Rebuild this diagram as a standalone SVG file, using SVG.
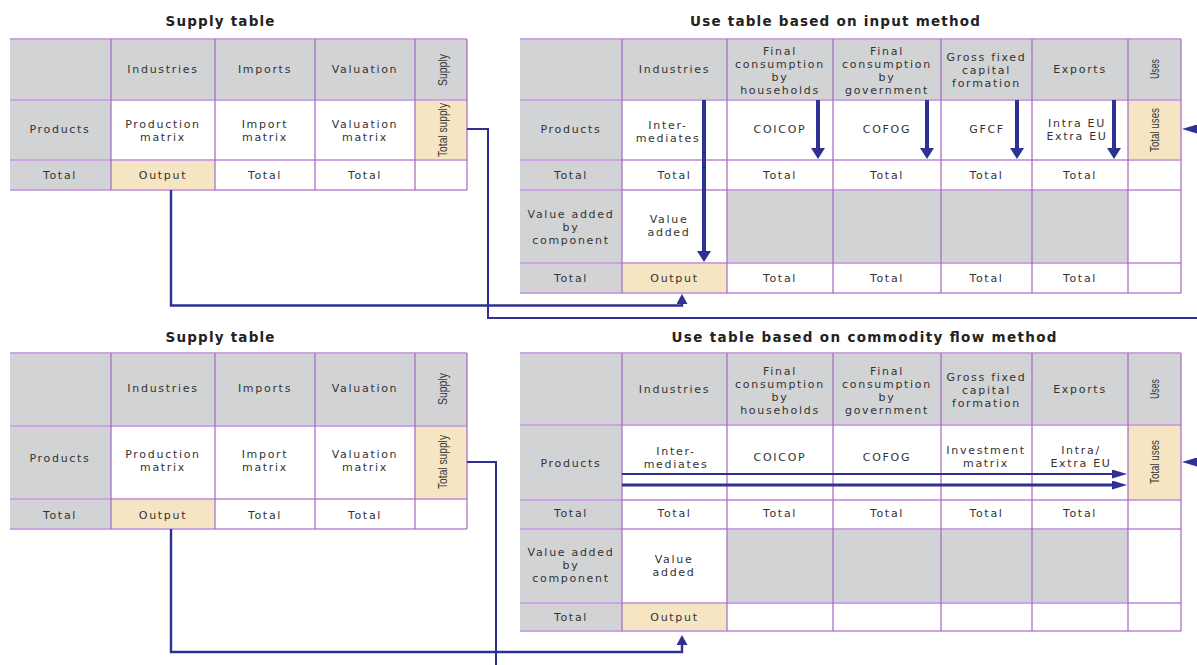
<svg xmlns="http://www.w3.org/2000/svg" width="1197" height="665" viewBox="0 0 1197 665">
<style>
.g{fill:#d1d3d4}.w{fill:#ffffff}.b{fill:#f5e5c3}
.hl{stroke:#cda4df;stroke-width:1.8;fill:none}
.vl{stroke:#a467c6;stroke-width:1.2;fill:none}
.t{font-family:"DejaVu Sans",sans-serif;font-size:11px;letter-spacing:1.7px;fill:#333333;text-anchor:middle}
.ti{font-family:"DejaVu Sans",sans-serif;font-size:13.5px;font-weight:bold;fill:#222;text-anchor:middle}
.r{font-family:"Liberation Sans",sans-serif;font-size:12px;fill:#383838;text-anchor:middle}
.c{stroke:#2e3192;fill:none;stroke-linejoin:miter}
.ah{fill:#2e3192}
</style>
<defs>
<marker id="mBig" markerUnits="userSpaceOnUse" viewBox="0 0 11 14" markerWidth="11" markerHeight="14" refX="0" refY="7" orient="auto"><path class="ah" d="M0,0 L11,7 L0,14 Z"/></marker>
<marker id="mSmall" markerUnits="userSpaceOnUse" viewBox="0 0 10 11" markerWidth="10" markerHeight="11" refX="0" refY="5.5" orient="auto"><path class="ah" d="M0,0 L10,5.5 L0,11 Z"/></marker>
<marker id="mH" markerUnits="userSpaceOnUse" viewBox="0 0 15 9" markerWidth="15" markerHeight="9" refX="0" refY="4.5" orient="auto"><path class="ah" d="M0,0 L15,4.5 L0,9 Z"/></marker>
</defs>
<rect width="1197" height="665" fill="#ffffff"/>

<text class="ti" x="220" y="26" textLength="109">Supply table</text>
<text class="ti" x="835" y="26" textLength="290">Use table based on input method</text>
<text class="ti" x="220" y="342" textLength="109">Supply table</text>
<text class="ti" x="864" y="342" textLength="385">Use table based on commodity flow method</text>

<g id="supply-top">
<rect class="g" x="10" y="39" width="457" height="61"/>
<rect class="g" x="10" y="100" width="101" height="90"/>
<rect class="w" x="111" y="100" width="304" height="60"/>
<rect class="b" x="415" y="100" width="52" height="60"/>
<rect class="b" x="111" y="160" width="104" height="30"/>
<rect class="w" x="215" y="160" width="252" height="30"/>
<path class="hl" d="M10,39H467M10,100H467M10,160H467M10,190H467"/>
<path class="vl" d="M111,39V190M215,39V190M315,39V190M415,39V190M467,39V190"/>
<text class="t" x="163" y="73">Industries</text>
<text class="t" x="265" y="73">Imports</text>
<text class="t" x="365" y="73">Valuation</text>
<text class="r" transform="translate(443,70) rotate(-90)" y="4" textLength="32" lengthAdjust="spacingAndGlyphs">Supply</text>
<text class="t" x="60" y="133">Products</text>
<text class="t" x="163" y="127.5">Production</text>
<text class="t" x="163" y="140.5">matrix</text>
<text class="t" x="265" y="127.5">Import</text>
<text class="t" x="265" y="140.5">matrix</text>
<text class="t" x="365" y="127.5">Valuation</text>
<text class="t" x="365" y="140.5">matrix</text>
<text class="r" transform="translate(443,130) rotate(-90)" y="4" textLength="54" lengthAdjust="spacingAndGlyphs">Total supply</text>
<text class="t" x="60" y="179">Total</text>
<text class="t" x="163" y="179">Output</text>
<text class="t" x="265" y="179">Total</text>
<text class="t" x="365" y="179">Total</text>
</g>

<g id="use-top">
<rect class="g" x="520" y="39" width="661" height="61"/>
<rect class="g" x="520" y="100" width="102" height="193"/>
<rect class="w" x="622" y="100" width="506" height="60"/>
<rect class="b" x="1128" y="100" width="53" height="60"/>
<rect class="w" x="622" y="160" width="559" height="30"/>
<rect class="w" x="622" y="190" width="105" height="73"/>
<rect class="g" x="727" y="190" width="401" height="73"/>
<rect class="w" x="1128" y="190" width="53" height="73"/>
<rect class="b" x="622" y="263" width="105" height="30"/>
<rect class="w" x="727" y="263" width="454" height="30"/>
<path class="hl" d="M520,39H1181M520,100H1181M520,160H1181M520,190H1181M520,263H1181M520,293H1181"/>
<path class="vl" d="M622,39V293M727,39V293M833,39V293M941,39V293M1032,39V293M1128,39V293M1181,39V293"/>
<text class="t" x="674.5" y="73">Industries</text>
<text class="t" x="780" y="54.5">Final</text>
<text class="t" x="780" y="67.5">consumption</text>
<text class="t" x="780" y="80.5">by</text>
<text class="t" x="780" y="93.5">households</text>
<text class="t" x="887" y="54.5">Final</text>
<text class="t" x="887" y="67.5">consumption</text>
<text class="t" x="887" y="80.5">by</text>
<text class="t" x="887" y="93.5">government</text>
<text class="t" x="986.5" y="60.5">Gross fixed</text>
<text class="t" x="986.5" y="73.5">capital</text>
<text class="t" x="986.5" y="86.5">formation</text>
<text class="t" x="1080" y="73">Exports</text>
<text class="r" transform="translate(1155,69) rotate(-90)" y="4" textLength="20" lengthAdjust="spacingAndGlyphs">Uses</text>
<text class="t" x="571" y="133">Products</text>
<text class="t" x="668" y="129">Inter-</text>
<text class="t" x="668" y="142">mediates</text>
<text class="t" x="780" y="133">COICOP</text>
<text class="t" x="887" y="133">COFOG</text>
<text class="t" x="987" y="133">GFCF</text>
<text class="t" x="1077" y="127">Intra EU</text>
<text class="t" x="1077" y="140">Extra EU</text>
<text class="r" transform="translate(1155,130) rotate(-90)" y="4" textLength="44" lengthAdjust="spacingAndGlyphs">Total uses</text>
<text class="t" x="571" y="179">Total</text>
<text class="t" x="674.5" y="179">Total</text>
<text class="t" x="780" y="179">Total</text>
<text class="t" x="887" y="179">Total</text>
<text class="t" x="986.5" y="179">Total</text>
<text class="t" x="1080" y="179">Total</text>
<text class="t" x="571" y="217.5">Value added</text>
<text class="t" x="571" y="230.5">by</text>
<text class="t" x="571" y="243.5">component</text>
<text class="t" x="669" y="223">Value</text>
<text class="t" x="669" y="236">added</text>
<text class="t" x="571" y="282">Total</text>
<text class="t" x="674.5" y="282">Output</text>
<text class="t" x="780" y="282">Total</text>
<text class="t" x="887" y="282">Total</text>
<text class="t" x="986.5" y="282">Total</text>
<text class="t" x="1080" y="282">Total</text>
</g>

<g id="supply-bottom">
<rect class="g" x="10" y="353" width="457" height="73"/>
<rect class="g" x="10" y="426" width="101" height="103"/>
<rect class="w" x="111" y="426" width="304" height="73"/>
<rect class="b" x="415" y="426" width="52" height="73"/>
<rect class="b" x="111" y="499" width="104" height="30"/>
<rect class="w" x="215" y="499" width="252" height="30"/>
<path class="hl" d="M10,353H467M10,426H467M10,499H467M10,529H467"/>
<path class="vl" d="M111,353V529M215,353V529M315,353V529M415,353V529M467,353V529"/>
<text class="t" x="163" y="392">Industries</text>
<text class="t" x="265" y="392">Imports</text>
<text class="t" x="365" y="392">Valuation</text>
<text class="r" transform="translate(443,389) rotate(-90)" y="4" textLength="32" lengthAdjust="spacingAndGlyphs">Supply</text>
<text class="t" x="60" y="462">Products</text>
<text class="t" x="163" y="457.5">Production</text>
<text class="t" x="163" y="470.5">matrix</text>
<text class="t" x="265" y="457.5">Import</text>
<text class="t" x="265" y="470.5">matrix</text>
<text class="t" x="365" y="457.5">Valuation</text>
<text class="t" x="365" y="470.5">matrix</text>
<text class="r" transform="translate(443,462) rotate(-90)" y="4" textLength="54" lengthAdjust="spacingAndGlyphs">Total supply</text>
<text class="t" x="60" y="519">Total</text>
<text class="t" x="163" y="519">Output</text>
<text class="t" x="265" y="519">Total</text>
<text class="t" x="365" y="519">Total</text>
</g>

<g id="use-bottom">
<rect class="g" x="520" y="353" width="661" height="72"/>
<rect class="g" x="520" y="425" width="102" height="206"/>
<rect class="w" x="622" y="425" width="506" height="75"/>
<rect class="b" x="1128" y="425" width="53" height="75"/>
<rect class="w" x="622" y="500" width="559" height="29"/>
<rect class="w" x="622" y="529" width="105" height="74"/>
<rect class="g" x="727" y="529" width="401" height="74"/>
<rect class="w" x="1128" y="529" width="53" height="74"/>
<rect class="b" x="622" y="603" width="105" height="28"/>
<rect class="w" x="727" y="603" width="454" height="28"/>
<path class="hl" d="M520,353H1181M520,425H1181M520,500H1181M520,529H1181M520,603H1181M520,631H1181"/>
<path class="vl" d="M622,353V631M727,353V631M833,353V631M941,353V631M1032,353V631M1128,353V631M1181,353V631"/>
<text class="t" x="674.5" y="393">Industries</text>
<text class="t" x="780" y="374.5">Final</text>
<text class="t" x="780" y="387.5">consumption</text>
<text class="t" x="780" y="400.5">by</text>
<text class="t" x="780" y="413.5">households</text>
<text class="t" x="887" y="374.5">Final</text>
<text class="t" x="887" y="387.5">consumption</text>
<text class="t" x="887" y="400.5">by</text>
<text class="t" x="887" y="413.5">government</text>
<text class="t" x="986.5" y="381">Gross fixed</text>
<text class="t" x="986.5" y="394">capital</text>
<text class="t" x="986.5" y="407">formation</text>
<text class="t" x="1080" y="393">Exports</text>
<text class="r" transform="translate(1155,389) rotate(-90)" y="4" textLength="20" lengthAdjust="spacingAndGlyphs">Uses</text>
<text class="t" x="571" y="467">Products</text>
<text class="t" x="676" y="454.5">Inter-</text>
<text class="t" x="676" y="467.5">mediates</text>
<text class="t" x="780" y="461">COICOP</text>
<text class="t" x="887" y="461">COFOG</text>
<text class="t" x="986" y="454">Investment</text>
<text class="t" x="986" y="467">matrix</text>
<text class="t" x="1081" y="454">Intra/</text>
<text class="t" x="1081" y="467">Extra EU</text>
<text class="r" transform="translate(1155,462) rotate(-90)" y="4" textLength="44" lengthAdjust="spacingAndGlyphs">Total uses</text>
<text class="t" x="571" y="517">Total</text>
<text class="t" x="674.5" y="517">Total</text>
<text class="t" x="780" y="517">Total</text>
<text class="t" x="887" y="517">Total</text>
<text class="t" x="986.5" y="517">Total</text>
<text class="t" x="1080" y="517">Total</text>
<text class="t" x="571" y="555.5">Value added</text>
<text class="t" x="571" y="568.5">by</text>
<text class="t" x="571" y="581.5">component</text>
<text class="t" x="674" y="562.5">Value</text>
<text class="t" x="674" y="575.5">added</text>
<text class="t" x="571" y="621">Total</text>
<text class="t" x="674.5" y="621">Output</text>
</g>

<g id="connectors">
<path class="c" stroke-width="2.4" d="M171,190V305.5H682V304" marker-end="url(#mSmall)"/>
<path class="c" stroke-width="2" d="M467,129H488V318H1215V129H1197" marker-end="url(#mH)"/>
<path class="c" stroke-width="4" d="M704,100V251" marker-end="url(#mBig)"/>
<path class="c" stroke-width="4" d="M818,100V148" marker-end="url(#mBig)"/>
<path class="c" stroke-width="4" d="M927,100V148" marker-end="url(#mBig)"/>
<path class="c" stroke-width="4" d="M1017,100V148" marker-end="url(#mBig)"/>
<path class="c" stroke-width="4" d="M1114,100V148" marker-end="url(#mBig)"/>
<path class="c" stroke-width="2.4" d="M171,529V652H682V645" marker-end="url(#mSmall)"/>
<path class="c" stroke-width="2" d="M467,462H496V700H1215V462H1197" marker-end="url(#mH)"/>
<path class="c" stroke-width="2" d="M622,474H1112" marker-end="url(#mH)"/>
<path class="c" stroke-width="3" d="M622,485H1112" marker-end="url(#mH)"/>
</g>
</svg>
